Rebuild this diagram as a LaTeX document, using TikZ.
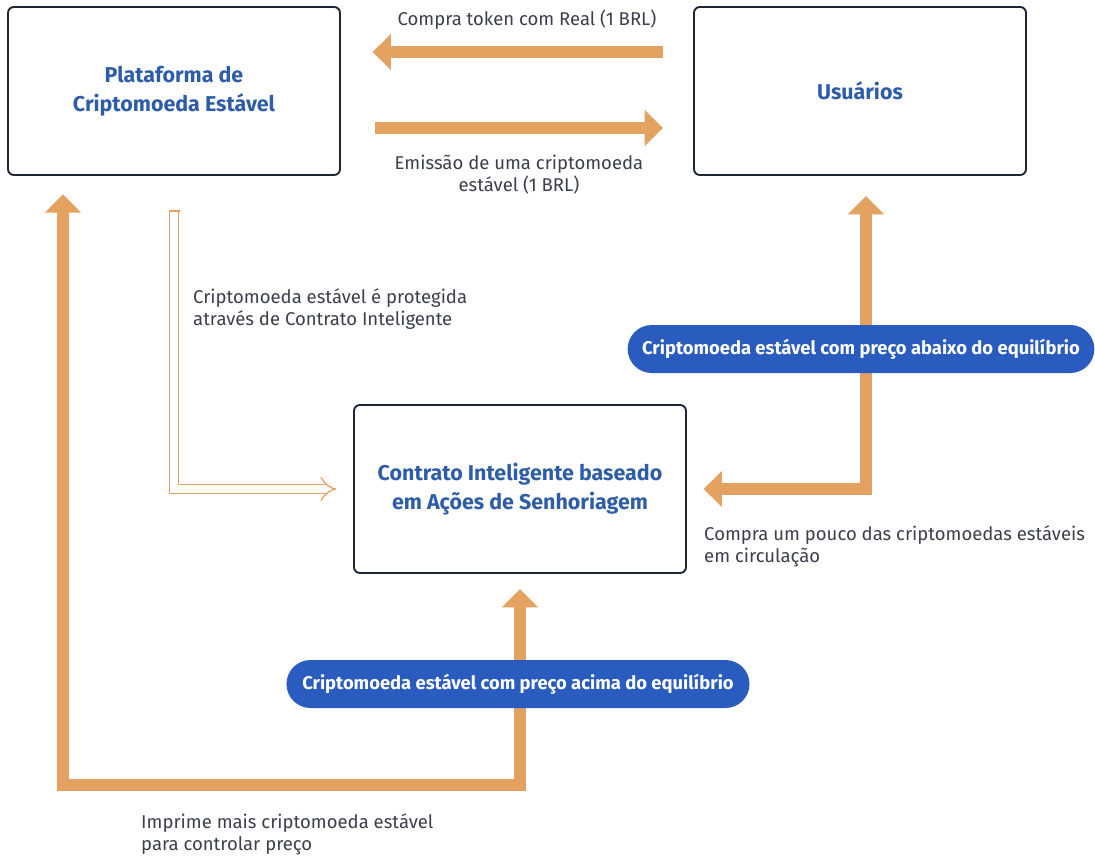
\documentclass[tikz,border=0pt]{standalone}
\usepackage{fontspec}
\setmainfont{Fira Sans}
\usetikzlibrary{arrows.meta}
\definecolor{boxline}{HTML}{1E2533}
\definecolor{headblue}{HTML}{2D5DA8}
\definecolor{pillblue}{HTML}{2A5CBF}
\definecolor{flowtan}{HTML}{E3A25F}
\definecolor{notegray}{HTML}{3A3F4A}

\begin{document}
\begin{tikzpicture}[
  x=0.03cm,
  y=-0.03cm,
  every node/.style={font=\fontsize{15.8}{18.8}\selectfont, notegray},
  block/.style={draw=boxline, line width=1.6pt, rounded corners=5pt,
    minimum width=9.96cm, minimum height=5.04cm, align=center,
    text=headblue, font=\fontsize{18.3}{24.7}\selectfont\bfseries},
  pill/.style={fill=pillblue, rounded corners=0.72cm, minimum height=1.44cm,
    text=white, font=\fontsize{15.7}{18}\selectfont\bfseries},
  note/.style={align=left, inner sep=0pt},
  flow/.style={flowtan, line width=0.36cm, line join=miter,
    -{Triangle[length=0.55cm, width=1.05cm]}},
  flowboth/.style={flow, {Triangle[length=0.55cm, width=1.05cm]}-{Triangle[length=0.55cm, width=1.05cm]}},
  hollow/.style={flowtan, double=white, line width=1.1pt, double distance=0.22cm,
    -{Implies[scale=1.7]}}
]
  % ---- canvas ------------------------------------------------------------
  \useasboundingbox (0,0) rectangle (1095,858);

  % ---- the three boxes ---------------------------------------------------
  \node[block] (plat) at (174,91) {Plataforma de\\Criptomoeda Estável};
  \node[block] (usr) at (860,91) {Usuários};
  \node[block] (ctr) at (520,489) {Contrato Inteligente baseado\\em Ações de Senhoriagem};

  % ---- between platform and users ----------------------------------------
  \draw[flow, shorten <=0.9cm, shorten >=0.95cm]
    ([yshift=1.17cm]usr.west) -- ([yshift=1.17cm]plat.east);
  \draw[flow, shorten <=1.02cm, shorten >=0.9cm]
    ([yshift=-1.11cm]plat.east) -- ([yshift=-1.11cm]usr.west);
  \node[note, align=center, anchor=south] (buytxt) at (527,30) {Compra token com Real (1 BRL)};
  \node[note, align=center, anchor=north] (issuetxt) at (519,155) {Emissão de uma criptomoeda\\estável (1 BRL)};

  % ---- platform to contract (hollow) ------------------------------------
  \draw[hollow, shorten <=1.05cm, shorten >=0.5cm]
    (plat.south) |- (ctr.west);
  \draw[flowtan, line width=1.1pt]
    ([xshift=-0.165cm, yshift=-1.05cm]plat.south) -- ([xshift=0.165cm, yshift=-1.05cm]plat.south);
  \node[note, anchor=west] (protxt) at (193,309) {Criptomoeda estável é protegida\\através de Contrato Inteligente};

  % ---- users to contract -------------------------------------------------
  \draw[flowboth, shorten <=0.6cm, shorten >=0.5cm]
    ([xshift=0.18cm]usr.south) |- (ctr.east);
  \node[pill, minimum width=14.0cm] (below) at (861,349)
    {Criptomoeda estável com preço abaixo do equilíbrio};
  \node[note, anchor=west] (buybacktxt) at (704,546) {Compra um pouco das criptomoedas estáveis\\em circulação};

  % ---- contract back to platform ----------------------------------------
  \coordinate (lowleft) at (63,785);
  \draw[flowboth, shorten <=0.45cm, shorten >=0.55cm]
    (ctr.south) |- (lowleft) -- (lowleft |- plat.south);
  \node[pill, minimum width=13.89cm] (above) at (518,684)
    {Criptomoeda estável com preço acima do equilíbrio};
  \node[note, anchor=west] (printtxt) at (141,834) {Imprime mais criptomoeda estável\\para controlar preço};
\end{tikzpicture}
\end{document}
